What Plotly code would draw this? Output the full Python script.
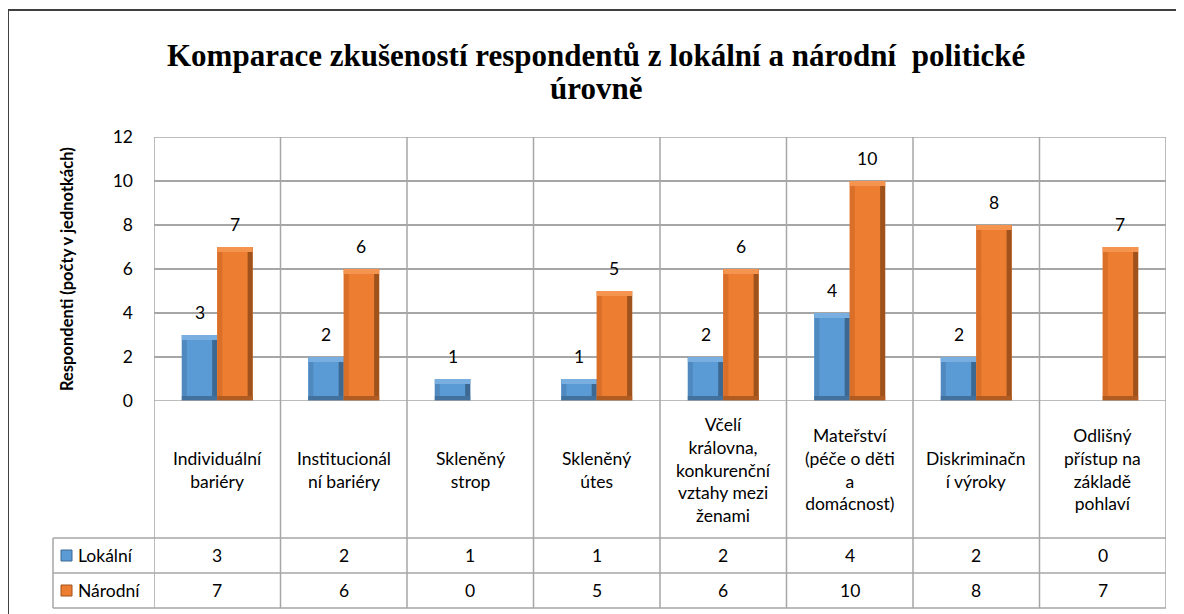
import plotly.graph_objects as go

# data
categories = [
    "Individuální bariéry",
    "Institucionální bariéry",
    "Skleněný strop",
    "Skleněný útes",
    "Včelí královna, konkurenční vztahy mezi ženami",
    "Mateřství (péče o děti a domácnost)",
    "Diskriminační výroky",
    "Odlišný přístup na základě pohlaví",
]
category_labels = [
    "Individuální<br>bariéry",
    "Institucionál<br>ní bariéry",
    "Skleněný<br>strop",
    "Skleněný<br>útes",
    "Včelí<br>královna,<br>konkurenční<br>vztahy mezi<br>ženami",
    "Mateřství<br>(péče o děti<br>a<br>domácnost)",
    "Diskriminačn<br>í výroky",
    "Odlišný<br>přístup na<br>základě<br>pohlaví",
]
lokalni = [3, 2, 1, 1, 2, 4, 2, 0]
narodni = [7, 6, 0, 5, 6, 10, 8, 7]
series_names = ["Lokální", "Národní"]
y_ticks = [0, 2, 4, 6, 8, 10, 12]

title_lines = ["Komparace zkušeností respondentů z lokální a národní  politické", "úrovně"]
y_title = "Respondenti (počty v jednotkách)"

# face, top, left, right, bottom shades (bevel look)
shades = [
    dict(face="#5B9BD5", top="#78AEE0", left="#5089C0", right="#3C6891", bottom="#41719C"),
    dict(face="#ED7D31", top="#F4944F", left="#D96F29", right="#A0521C", bottom="#B05B21"),
]
grid = "#A6A6A6"
font_family = "Lato"
fs = 17.5

# the page body has an 8px margin, so the figure starts at (8, 8) on screen
OFF = 8
W, H = 1184 - OFF, 614 - OFF
ML, MR, MT, MB = 154 - OFF, 18, 137 - OFF, 213
plot_w = W - ML - MR
plot_h = H - MT - MB

bar_w = 0.28
bev_x = 0.04
bev_y = 0.23


def py(pix):
    # screen pixel row -> paper y
    return (H - MB - (pix - OFF)) / plot_h


def px(pix):
    # screen pixel column -> paper x
    return (pix - OFF - ML) / plot_w


fig = go.Figure()
series = [lokalni, narodni]
for s, (name, vals, sh) in enumerate(zip(series_names, series, shades)):
    o = -bar_w if s == 0 else 0
    heights = [v if v else None for v in vals]
    fig.add_trace(go.Bar(x=categories, y=heights, name=name, offset=o, width=bar_w,
                         marker=dict(color=sh["face"], line=dict(width=0)), showlegend=False))
    # bevel pieces
    fig.add_trace(go.Bar(x=categories, y=heights, offset=o, width=bev_x,
                         marker=dict(color=sh["left"], line=dict(width=0)), showlegend=False,
                         hoverinfo="skip"))
    fig.add_trace(go.Bar(x=categories, y=heights, offset=o + bar_w - bev_x, width=bev_x,
                         marker=dict(color=sh["right"], line=dict(width=0)), showlegend=False,
                         hoverinfo="skip"))
    fig.add_trace(go.Bar(x=categories, y=[bev_y if v else None for v in vals], base=0,
                         offset=o, width=bar_w,
                         marker=dict(color=sh["bottom"], line=dict(width=0)), showlegend=False,
                         hoverinfo="skip"))
    fig.add_trace(go.Bar(x=categories, y=[bev_y if v else None for v in vals],
                         base=[v - bev_y if v else None for v in vals],
                         offset=o, width=bar_w,
                         marker=dict(color=sh["top"], line=dict(width=0)), showlegend=False,
                         hoverinfo="skip"))

shapes = []
ann = []

# vertical grid lines at category boundaries, running down through the table
for i in range(len(categories) + 1):
    shapes.append(dict(type="line", xref="x", yref="paper", x0=i - 0.5, x1=i - 0.5,
                       y0=py(608), y1=1, line=dict(color=grid, width=1.5)))
# top and bottom of plot area
for v in (0, 12):
    shapes.append(dict(type="line", xref="paper", yref="y", x0=0, x1=1, y0=v, y1=v,
                       line=dict(color=grid, width=1.5)))
# table lines
for yy in (py(538), py(573), py(608)):
    shapes.append(dict(type="line", xref="paper", yref="paper", x0=px(53), x1=1,
                       y0=yy, y1=yy, line=dict(color=grid, width=1.5)))
shapes.append(dict(type="line", xref="paper", yref="paper", x0=px(53), x1=px(53),
                   y0=py(608), y1=py(538), line=dict(color=grid, width=1.5)))

# table rows
row_centers = [py(555.5), py(590.5)]
for name, vals, sh, yc in zip(series_names, series, shades, row_centers):
    shapes.append(dict(type="rect", xref="paper", yref="paper",
                       x0=px(61), x1=px(72), y0=yc - 5.5 / plot_h, y1=yc + 5.5 / plot_h,
                       fillcolor=sh["face"], line=dict(color=sh["right"], width=1)))
    ann.append(dict(x=px(76), y=yc, xref="paper", yref="paper", text=name,
                    xanchor="left", yanchor="middle", showarrow=False,
                    font=dict(size=fs, color="black")))
    for c, v in zip(categories, vals):
        ann.append(dict(x=c, y=yc, xref="x", yref="paper", text=str(v),
                        xanchor="center", yanchor="middle", showarrow=False,
                        font=dict(size=fs, color="black")))

# category labels
for c, lab in zip(categories, category_labels):
    ann.append(dict(x=c, y=py(469.5), xref="x", yref="paper", text=lab,
                    xanchor="center", yanchor="middle", showarrow=False,
                    font=dict(size=fs, color="black")))

# data labels above bars
for vals, shift in zip(series, (-17.7, 17.7)):
    for c, v in zip(categories, vals):
        if v == 0:
            continue
        ann.append(dict(x=c, y=v, xref="x", yref="y", text=str(v), xshift=shift,
                        yshift=23, xanchor="center", yanchor="middle", showarrow=False,
                        font=dict(size=fs, color="black")))

# y axis title
ann.append(dict(x=px(67), y=0.5, xref="paper", yref="paper", text="<b>" + y_title + "</b>",
                textangle=-90, showarrow=False, xanchor="center", yanchor="middle",
                font=dict(size=16.5, color="black")))

# chart title, two lines
for line, yc in zip(title_lines, (55, 88)):
    ann.append(dict(x=px(596), y=py(yc), xref="paper", yref="paper", text="<b>" + line + "</b>",
                    showarrow=False, xanchor="center", yanchor="middle",
                    font=dict(family="Liberation Serif", size=31, color="black")))

# outer frame (clipped on the right and bottom like the reference)
shapes.append(dict(type="rect", xref="paper", yref="paper", x0=px(8), x1=px(1300),
                   y0=py(700), y1=py(10), line=dict(color="#404040", width=2),
                   fillcolor="rgba(0,0,0,0)", layer="above"))

fig.update_layout(
    width=W, height=H,
    margin=dict(l=ML, r=MR, t=MT, b=MB),
    paper_bgcolor="white", plot_bgcolor="white",
    font=dict(family=font_family, size=fs, color="black"),
    barmode="overlay",
    xaxis=dict(type="category", range=[-0.5, 7.5], showticklabels=False,
               showgrid=False, zeroline=False, showline=False),
    yaxis=dict(range=[0, 12], tickvals=y_ticks, showgrid=True, gridcolor=grid,
               gridwidth=1.5, zeroline=False, showline=False, ticks="",
               ticklabelstandoff=20, tickfont=dict(size=fs, color="black")),
    shapes=shapes, annotations=ann,
)

fig.write_html("out.html")
